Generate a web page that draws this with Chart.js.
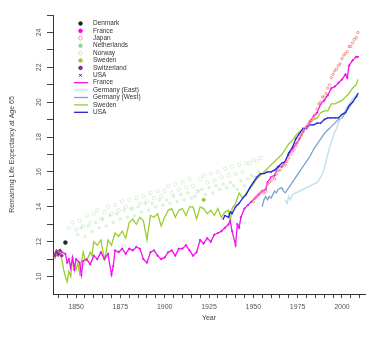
<!DOCTYPE html>
<html>
<head>
<meta charset="utf-8">
<script src="https://cdn.jsdelivr.net/npm/chart.js@4"></script>
<style>
html, body { margin: 0; padding: 0; background: #fff; }
</style>
</head>
<body>
<canvas id="chart" width="370" height="343"></canvas>
<script>
// lines
const franceYears = [1838,1839,1840,1842,1844,1845,1846,1847,1848,1849,1850,1852,1853,1854,1856,1858,1860,1862,1864,1866,1868,1870,1871,1872,1874,1876,1878,1880,1882,1884,1886,1888,1890,1892,1894,1896,1898,1900,1902,1904,1906,1908,1910,1912,1914,1916,1918,1920,1922,1924,1926,1928,1930,1932,1934,1936,1937,1938,1940,1941,1942,1943,1945,1947,1949,1951,1953,1955,1957,1958,1960,1962,1964,1966,1968,1970,1972,1974,1976,1978,1980,1982,1984,1986,1988,1990,1992,1994,1996,1998,2000,2002,2003,2004,2006,2008,2009]
const franceValues = [11.3,11.5,11.2,11.4,11.3,10.8,11.0,10.5,11.1,10.4,11.0,10.8,10.1,10.9,11.0,10.7,11.2,11.0,11.4,11.0,11.3,10.1,10.6,11.5,11.4,11.6,11.3,11.6,11.5,11.7,11.6,11.0,10.8,11.4,11.5,11.2,11.0,11.1,11.4,11.5,11.2,11.6,11.6,11.8,11.5,11.2,11.4,12.1,11.9,12.2,12.0,12.4,12.5,12.6,12.8,13.0,13.2,12.6,11.8,13.0,12.8,13.4,13.9,14.1,14.3,14.5,14.7,14.9,15.0,15.4,15.7,15.8,16.3,16.3,16.6,17.0,17.3,17.6,17.9,18.3,18.6,18.9,19.2,19.4,19.9,20.1,20.4,20.8,20.9,21.1,21.3,21.6,21.4,22.1,22.4,22.6,22.6]

const swedenYears = [1838,1840,1842,1843,1844,1845,1846,1847,1848,1850,1851,1852,1853,1854,1855,1856,1858,1859,1860,1862,1864,1866,1867,1868,1870,1872,1874,1876,1878,1880,1882,1884,1886,1888,1890,1892,1894,1896,1898,1900,1902,1904,1906,1908,1910,1912,1914,1916,1918,1920,1922,1924,1926,1928,1930,1932,1934,1936,1937,1938,1940,1942,1944,1946,1948,1950,1952,1954,1956,1958,1960,1962,1964,1966,1968,1970,1972,1974,1976,1978,1980,1982,1984,1986,1988,1990,1992,1994,1996,1998,2000,2002,2004,2006,2008,2009]
const swedenValues = [11.0,11.5,11.0,10.4,10.0,9.7,10.3,10.0,11.0,10.4,10.8,10.2,10.8,11.4,11.0,10.9,11.4,11.2,12.0,11.8,12.1,11.0,11.4,12.1,11.8,12.5,12.3,12.6,12.2,13.1,13.3,13.0,13.4,13.2,12.1,13.5,13.4,13.6,12.9,13.4,13.8,13.9,13.4,13.8,13.9,13.5,14.0,14.0,13.3,14.0,13.9,13.6,13.8,13.5,13.9,13.4,13.7,13.8,13.2,13.9,14.2,14.8,14.5,14.8,15.0,15.3,15.6,15.8,16.0,16.2,16.4,16.6,16.8,17.0,17.3,17.6,17.8,18.1,18.3,18.4,18.5,18.8,19.0,19.1,19.4,19.5,19.5,19.9,19.9,20.0,20.1,20.3,20.5,20.8,21.0,21.3]

const usaYears = [1933,1934,1936,1937,1938,1940,1941,1942,1944,1946,1948,1950,1952,1954,1956,1958,1960,1962,1964,1966,1968,1970,1972,1974,1976,1978,1980,1982,1984,1986,1988,1990,1992,1994,1996,1998,2000,2002,2004,2006,2008,2009]
const usaValues = [13.3,13.5,13.4,13.7,13.6,14.0,14.1,14.2,14.5,14.7,15.1,15.4,15.7,15.9,15.9,16.0,16.0,16.1,16.3,16.5,16.6,17.1,17.4,17.9,18.2,18.5,18.5,18.7,18.7,18.8,18.8,19.0,19.1,19.1,19.1,19.1,19.3,19.4,19.8,20.0,20.3,20.5]

const gerWestYears = [1955,1956,1957,1958,1959,1960,1962,1963,1964,1966,1967,1968,1970,1972,1974,1976,1978,1980,1982,1984,1986,1988,1990,1992,1994,1996,1998,2000,2002,2004,2006,2008,2009]
const gerWestValues = [14.0,14.4,14.6,14.4,14.6,14.5,14.9,14.8,15.0,15.1,14.9,14.8,15.1,15.4,15.7,16.0,16.3,16.6,16.9,17.3,17.6,17.9,18.2,18.4,18.6,18.8,19.0,19.1,19.4,19.7,20.0,20.3,20.4]

const gerEastYears = [1968,1969,1970,1971,1972,1974,1976,1978,1980,1982,1984,1986,1988,1989,1990,1991,1992,1993,1994,1995,1996,1997,1998,1999,2000,2002,2004,2006,2008,2009]
const gerEastValues = [14.4,14.2,14.6,14.4,14.7,14.8,14.9,15.0,15.1,15.2,15.3,15.4,15.7,15.9,16.2,16.6,17.0,17.4,17.7,18.0,18.3,18.5,18.8,19.0,19.2,19.6,19.9,20.2,20.4,20.5]

// points
const denmarkYears = [1844]
const denmarkValues = [11.95]

const swedenPtYears = [1922]
const swedenPtValues = [14.4]

const switzYears = [1838,1839,1840,1841,1842]
const switzValues = [11.2,11.4,11.3,11.5,11.2]

const japanYears = [1950,1951,1952,1953,1954,1955,1956,1957,1958,1959,1960,1961,1962,1963,1964,1965,1966,1967,1968,1969,1970,1971,1972,1973,1974,1975,1976,1977,1978,1979,1980,1981,1982,1983,1984,1985,1986,1987,1988,1989,1990,1991,1992,1993,1994,1995,1996,1997,1998,1999,2000,2001,2002,2003,2004,2005,2006,2007,2008,2009]
const japanValues = [14.3,14.5,14.6,14.7,14.8,14.9,14.8,14.9,15.3,15.4,15.5,15.7,15.6,15.9,16.1,16.1,16.3,16.4,16.4,16.6,16.8,17.0,17.2,17.3,17.5,17.7,17.9,18.1,18.3,18.5,18.5,18.7,18.9,19.0,19.1,19.3,19.6,19.9,20.0,20.3,20.3,20.5,20.8,21.0,21.4,21.6,21.8,21.9,22.1,22.2,22.5,22.7,22.8,22.9,23.2,23.2,23.4,23.6,23.7,24.0]

const norwayYears = [1846,1848,1850,1852,1854,1856,1858,1860,1862,1864,1866,1868,1870,1872,1874,1876,1878,1880,1882,1884,1886,1888,1890,1892,1894,1896,1898,1900,1902,1904,1906,1908,1910,1912,1914,1916,1918,1920,1922,1924,1926,1928,1930,1932,1934,1936,1938,1940,1942,1944,1946,1948,1950,1952,1954]
const norwayValues = [12.8,13.1,12.7,13.2,12.9,13.5,13.1,13.6,13.8,13.3,13.7,14.0,13.6,14.1,13.8,14.3,14.0,14.4,13.9,14.5,14.2,14.6,14.3,14.8,14.5,14.9,14.6,14.9,15.2,14.8,15.3,15.0,15.4,15.1,15.6,15.2,14.9,15.6,15.8,15.4,15.9,15.5,16.0,15.7,16.2,15.8,16.3,15.9,16.4,16.0,16.5,16.5,16.7,16.6,16.8]

const nethYears = [1851,1853,1855,1857,1859,1861,1863,1865,1867,1869,1871,1873,1875,1877,1879,1881,1883,1885,1887,1889,1891,1893,1895,1897,1899,1901,1903,1905,1907,1909,1911,1913,1915,1917,1919,1921,1923,1925,1927,1929,1931,1933,1935,1937,1939,1941,1943,1945,1947,1949,1951,1953]
const nethValues = [12.4,12.8,12.3,12.9,12.6,13.1,12.8,13.3,12.9,13.5,13.1,13.6,13.3,13.8,13.4,13.9,13.5,14.0,13.7,14.2,13.8,14.2,14.0,14.4,14.1,14.4,14.2,14.6,14.3,14.7,14.4,14.8,14.5,14.6,14.9,15.0,14.7,15.1,14.8,15.2,15.0,15.3,15.1,15.4,15.2,15.0,15.5,15.2,15.6,15.8,15.7,16.0]

const xTicks = [1840,1845,1850,1855,1860,1865,1870,1875,1880,1885,1890,1895,1900,1905,1910,1915,1920,1925,1930,1935,1940,1945,1950,1955,1960,1965,1970,1975,1980,1985,1990,1995,2000,2005,2010]
const yTicks = [10,11,12,13,14,15,16,17,18,19,20,21,22,23,24,25]

const font = '"Liberation Sans", Arial, sans-serif'
const xy = (xs, ys) => xs.map((x, i) => ({ x, y: ys[i] }))

const pts = (label, xs, ys, color, style, radius, order, fill) => ({
    label, data: xy(xs, ys), showLine: false,
    pointStyle: style, pointRadius: radius, pointBorderWidth: 1,
    borderColor: color, backgroundColor: fill ?? color, order
})
const line = (label, xs, ys, color, order) => ({
    label, data: xy(xs, ys), showLine: true, pointRadius: 0,
    borderColor: color, backgroundColor: color, borderWidth: 1.3, order
})

// legend inside the plot, top left
const insideLegend = {
    id: "insideLegend",
    afterDraw(chart) {
        const ctx = chart.ctx
        ctx.save()
        ctx.font = "6.5px " + font
        ctx.textBaseline = "middle"
        chart.data.datasets.forEach((ds, i) => {
            const y = 23.5 + i * 7.4
            if (ds.showLine) {
                ctx.strokeStyle = ds.borderColor
                ctx.lineWidth = 1.3
                ctx.beginPath()
                ctx.moveTo(74, y)
                ctx.lineTo(88, y)
                ctx.stroke()
            } else {
                ctx.strokeStyle = ds.legendColor ?? ds.borderColor
                ctx.fillStyle = ds.legendFill ?? ds.backgroundColor
                ctx.lineWidth = 1
                Chart.helpers.drawPoint(ctx, { pointStyle: ds.pointStyle, radius: 1.8, rotation: 0, borderWidth: 1 }, 80.5, y)
            }
            ctx.fillStyle = "#333"
            ctx.fillText(ds.label, 93, y)
        })
        ctx.restore()
    }
}

const netherlands = pts("Netherlands", nethYears, nethValues, "rgba(140,215,140,0.22)", "circle", 1.4, 9)
netherlands.legendColor = "#8fd88f"
netherlands.legendFill = "#8fd88f"
const norway = pts("Norway", norwayYears, norwayValues, "rgba(160,215,160,0.35)", "circle", 1.8, 10, "rgba(255,255,255,0)")
norway.legendColor = "#c2e6bc"

new Chart(document.getElementById("chart"), {
    type: "scatter",
    data: {
        datasets: [
            pts("Denmark", denmarkYears, denmarkValues, "#222", "circle", 1.8, 1),
            pts("France", franceYears, franceValues, "#ff00ff", "circle", 0.7, 6),
            pts("Japan", japanYears, japanValues, "#f29090", "circle", 1.2, 2, "rgba(255,255,255,0)"),
            netherlands,
            norway,
            pts("Sweden", swedenPtYears, swedenPtValues, "#a8c23c", "circle", 1.6, 2),
            pts("Switzerland", switzYears, switzValues, "#8a2a9a", "circle", 1.2, 3),
            pts("USA", usaYears, usaValues, "#2020c0", "crossRot", 0.7, 6),
            line("France", franceYears, franceValues, "#f010f0", 4),
            line("Germany (East)", gerEastYears, gerEastValues, "#bde0ec", 5),
            line("Germany (West)", gerWestYears, gerWestValues, "#7aa3cb", 5),
            line("Sweden", swedenYears, swedenValues, "#9acd32", 5),
            line("USA", usaYears, usaValues, "#2222dd", 3)
        ]
    },
    options: {
        responsive: false,
        animation: false,
        layout: { padding: { top: 15, left: 0, right: 0, bottom: 0 } },
        plugins: { legend: { display: false }, tooltip: { enabled: false } },
        scales: {
            x: {
                type: "linear", min: 1837, max: 2013,
                afterBuildTicks: s => { s.ticks = xTicks.map(value => ({ value })) },
                afterFit: s => { s.height = 49 },
                ticks: {
                    autoSkip: false, maxRotation: 0, padding: 5,
                    color: "#555", font: { family: font, size: 7 },
                    callback: v => v % 25 === 0 ? String(v) : ""
                },
                grid: { drawOnChartArea: false, tickLength: 4, tickColor: "#444" },
                border: { color: "#333", width: 1 },
                title: { display: true, text: "Year", color: "#444", font: { family: font, size: 7 }, padding: { top: 0, bottom: 21 } }
            },
            y: {
                type: "linear", min: 9, max: 25,
                afterBuildTicks: s => { s.ticks = yTicks.map(value => ({ value })) },
                afterFit: s => { s.width = 53 },
                ticks: {
                    autoSkip: false, minRotation: 90, maxRotation: 90, crossAlign: "center", padding: 4,
                    color: "#555", font: { family: font, size: 7 },
                    callback: v => v % 2 === 0 && v < 25 ? String(v) : ""
                },
                grid: { drawOnChartArea: false, tickLength: 6, tickColor: "#444" },
                border: { color: "#333", width: 1 },
                title: { display: true, text: "Remaining Life Expectancy at Age 65", color: "#444", font: { family: font, size: 7 }, padding: { top: 8, bottom: 0 } }
            }
        }
    },
    plugins: [insideLegend]
})
</script>
</body>
</html>
